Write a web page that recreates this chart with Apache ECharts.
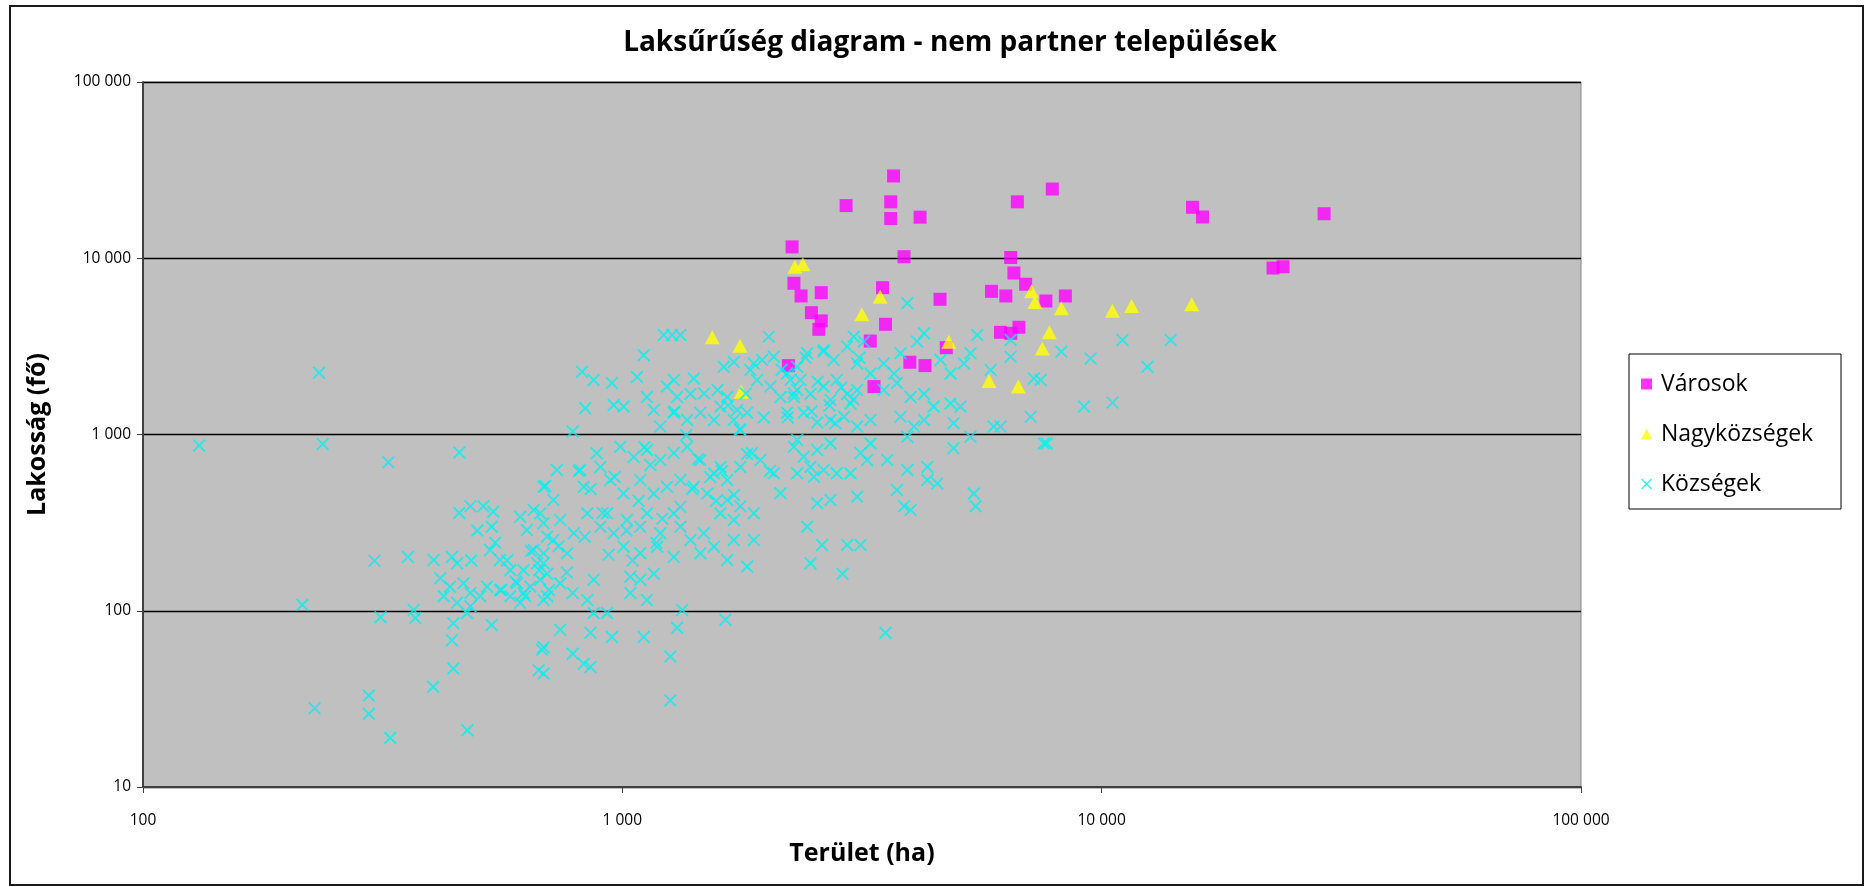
<!DOCTYPE html>
<html>
<head>
<meta charset="utf-8">
<script src="https://cdn.jsdelivr.net/npm/echarts@6/dist/echarts.min.js"></script>
<style>
html,body{margin:0;padding:0;background:#fff;}
#chart{width:1870px;height:886px;}
</style>
</head>
<body>
<div id="chart"></div>
<script>
const chartTitle = 'Laksűrűség diagram - nem partner települések';
const xAxisName = 'Terület (ha)';
const yAxisName = 'Lakosság (fő)';
const seriesNames = ['Városok', 'Nagyközségek', 'Községek'];

// [terület (ha), lakosság (fő)]
const varosok = [
  [3680,29300],[2930,19900],[3630,20900],[3630,16800],[4180,17100],[2260,11600],[3870,10200],
  [6670,20900],[7890,24700],[6460,10100],[6560,8250],[6940,7120],[5890,6490],[6310,6110],
  [7650,5720],[8400,6110],[2280,7210],[2360,6110],[2600,6380],[3490,6810],[4600,5850],
  [2480,4910],[2600,4410],[2570,3950],[3540,4220],[6150,3800],[6720,4060],[3290,3390],
  [4740,3110],[2220,2460],[3980,2570],[4280,2460],[3350,1870],[6460,3750],
  [15470,19460],[16230,17140],[29110,17890],[22780,8800],[23900,8950]
];

const nagykozsegek = [
  [2290,8950],[2380,9240],[3450,6050],[3160,4810],[1540,3560],[1760,3190],[1770,1750],
  [4800,3360],[7140,6490],[7260,5650],[8240,5200],[7780,3800],[7520,3080],[5820,2010],
  [6700,1870],[10530,5040],[11550,5360],[15410,5480]
];

const kozsegek = [
  [233,2240],[131,866],[237,883],[325,695],[457,790],[691,510],
  [482,392],[513,392],[538,365],[534,300],
  [612,341],[653,373],[685,314],[632,287],[697,264],[653,221],[685,186],[622,170],
  [304,192],[357,202],[404,194],[441,202],[452,186],
  [417,153],[437,137],[466,143],[482,126],[505,121],[482,106],[522,137],[424,121],[452,111],
  [530,221],[556,194],[584,170],[603,143],[622,126],[584,121],[556,131],[643,137],[674,150],[697,121],[612,111],[664,186],
  [215,108],[313,92],[367,101],[370,91],[444,85],[474,97],[534,83],[441,68],[444,47],[403,37],[680,60],[669,46],
  [228,28],[296,33],[296,26],[328,19],[475,21],
  [1220,3670],[1270,3670],[1322,3670],[1108,2820],[2020,3590],[824,2270],[871,2040],[951,1960],[1073,2120],
  [1280,2040],[1409,2080],[1628,2420],[1708,2580],[1880,2530],[1957,2646],[2070,2760],
  [837,1410],[959,1470],[1006,1440],[1125,1630],[1163,1377],[1239,1870],[1301,1630],[1280,1330],[1387,1700],
  [1365,1208],[1455,1330],[1580,1788],[1602,1440],[1655,1630],[1736,1377],[1821,1330],[1708,1208],[1553,1208],
  [1910,2040],[2037,1870],[2138,1630],[2243,2040],[2207,1330],[2316,1788],[788,1040],[1763,1060],[1200,1110],
  [730,629],[685,505],[718,425],[817,629],[831,505],[900,655],[944,552],[1006,462],[990,852],[1056,746],
  [1125,817],[1200,717],[1280,785],[1365,852],[1455,717],[1553,602],[1602,655],[1655,552],[1763,655],[1821,776],
  [1941,717],[2070,602],[2138,464],[2280,852],
  [1090,552],[1163,462],[1239,505],[1322,552],[1409,505],[1503,462],[1655,425],[1763,392],[1880,357],[1708,327],[1602,357],
  [674,357],[742,327],[792,275],[718,252],[767,212],[685,212],[845,357],[900,300],[959,275],[929,357],[1022,327],
  [1090,300],[1125,357],[1200,275],[1280,357],[1322,300],[1387,252],
  [1006,231],[1090,212],[1182,231],[1280,202],[1455,212],[1553,231],[1655,194],[1821,178],[1478,275],[1708,252],[1880,252],
  [871,150],[1039,156],[1090,150],[1163,162],[697,162],[742,143],[788,126],[845,115],[685,115],[1039,126],[1125,115],
  [871,97],[929,97],[1333,101],[1641,89],[742,78],[858,75],[951,71],[1108,71],[1301,80],[685,62],[788,57],[831,50],
  [858,48],[1259,55],[685,44],[1259,31],
  [3930,5550],[3040,3590],[3190,3370],[2945,3160],[4260,3750],[4120,3370],[5500,3670],[6456,3437],
  [2430,2890],[2630,3016],[2760,2646],[2316,2420],[3090,2530],[3294,2220],[3510,2530],[3690,2220],[3805,2890],
  [4612,2646],[4839,2220],[5160,2530],[5326,2890],[6456,2760],[5864,2323],[7220,2080],
  [2630,1870],[2800,2040],[2945,1700],[3090,1788],[2992,1500],[2718,1569],[2469,1700],[2280,1630],[2353,2040],
  [3510,1788],[3740,1960],[3993,1630],[4260,1700],[4839,1500],[5076,1440],[4460,1440],
  [2390,1330],[2550,1170],[2718,1208],[2900,1260],[3090,1110],[3294,1208],[3805,1260],[4060,1110],[4260,1208],
  [4910,1160],[5950,1110],[6153,1110],[7108,1260],[7580,890],
  [2316,930],[2390,748],[2550,817],[2718,890],[2316,602],[2469,655],[2510,575],[2630,629],[2800,602],[2992,602],
  [3140,785],[3240,717],[3294,890],[3570,717],[3930,970],[3930,629],[4330,655],[4330,552],[4540,527],[4910,835],[5326,970],
  [2550,407],[2718,425],[3090,444],[3740,484],[3993,373],[3870,392],[5410,462],[5460,392],
  [2430,300],[2610,236],[2945,236],[3140,236],[2469,186],[2880,162],[3540,75],
  [8240,2950],[9484,2700],[11050,3437],[12460,2420],[13930,3437],[9185,1440],[10530,1520],[7680,890],[7458,2040],
  [1850,2323],[2207,2220],
  [543,243],[575,193],[599,146],[645,218],[671,170],[703,131],[736,232],[766,165],[627,121],[559,131],
  [811,620],[859,491],[910,359],[964,574],[1021,285],[1081,420],[1144,671],[1212,333],[835,263],[936,208],
  [1050,193],[1178,243],[884,783],[1112,847],
  [1284,1352],[1359,990],[1440,725],[1525,574],[1614,620],[1661,1461],[1759,1070],[1863,783],[1973,1250],
  [1569,420],[1399,491],[1710,454],[1481,1708],[1810,1708],[2031,620],[1321,389],
  [2150,2333],[2278,1708],[2412,2725],[2554,1995],[2705,1461],[2864,1846],[3034,1580],[3122,2725],[2628,2945],
  [2783,1157],[2213,1250],[2482,1352],
  [457,359],[498,285],[484,193]
];

const CROSS = 'path://M0,1L1,0L5,4L9,0L10,1L6,5L10,9L9,10L5,6L1,10L0,9L4,5Z';

function fmt(v) {
  return String(Math.round(v)).replace(/\B(?=(\d{3})+(?!\d))/g, ' ');
}

const chart = echarts.init(document.getElementById('chart'), null, {renderer: 'canvas'});
const axisLabelStyle = {fontFamily: '"Open Sans"', fontSize: 15.5, color: '#000'};
const axisNameStyle = {fontFamily: '"Open Sans"', fontWeight: 'bold', fontSize: 25, color: '#000'};

chart.setOption({
  animation: false,
  backgroundColor: '#fff',
  graphic: [
    {type: 'rect', shape: {x: 10, y: 6, width: 1853, height: 879},
     style: {fill: null, stroke: '#1a1a1a', lineWidth: 2}, silent: true, z: -1},
    {type: 'rect', shape: {x: 1629, y: 354, width: 212, height: 155},
     style: {fill: '#fff', stroke: '#000', lineWidth: 1}, silent: true, z: 0},
    {type: 'text', x: 950, y: 43, silent: true,
     style: {text: chartTitle, font: 'bold 28px "Open Sans"', fill: '#000',
             align: 'center', verticalAlign: 'middle', textAlign: 'center', textVerticalAlign: 'middle'}}
  ],
  grid: {left: 143, right: 289, top: 82, bottom: 99, show: true,
         backgroundColor: '#C0C0C0', borderColor: '#868686', borderWidth: 1},
  legend: {
    orient: 'vertical', left: 1641, top: 372, padding: 0,
    itemWidth: 11, itemHeight: 11, itemGap: 26, z: 5,
    textStyle: {fontFamily: '"Open Sans"', fontSize: 23, color: '#000', lineHeight: 24, padding: [0,0,0,4]},
    data: [
      {name: seriesNames[0], icon: 'rect'},
      {name: seriesNames[1], icon: 'triangle'},
      {name: seriesNames[2], icon: CROSS}
    ]
  },
  xAxis: {
    type: 'log', logBase: 10, min: 100, max: 100000,
    name: xAxisName, nameLocation: 'middle', nameGap: 54, nameTextStyle: axisNameStyle,
    axisLine: {show: true, lineStyle: {color: '#404040', width: 2}},
    axisTick: {show: true, length: 6, lineStyle: {color: '#404040', width: 1}},
    axisLabel: Object.assign({margin: 26, formatter: fmt}, axisLabelStyle),
    splitLine: {show: false}, minorTick: {show: false}
  },
  yAxis: {
    type: 'log', logBase: 10, min: 10, max: 100000,
    name: yAxisName, nameLocation: 'middle', nameGap: 93, nameTextStyle: axisNameStyle,
    axisLine: {show: true, lineStyle: {color: '#404040', width: 2}},
    axisTick: {show: true, length: 6, lineStyle: {color: '#404040', width: 1}},
    axisLabel: Object.assign({margin: 12, formatter: fmt}, axisLabelStyle),
    splitLine: {show: true, lineStyle: {color: '#000', width: 1.4}}
  },
  series: [
    {name: seriesNames[0], type: 'scatter', symbol: 'rect', symbolSize: 13,
     itemStyle: {color: '#FF00FF'}, data: varosok, emphasis: {disabled: true}},
    {name: seriesNames[1], type: 'scatter', symbol: 'triangle', symbolSize: [15, 14],
     itemStyle: {color: '#FFFF00'}, data: nagykozsegek, emphasis: {disabled: true}},
    {name: seriesNames[2], type: 'scatter', symbol: CROSS, symbolSize: 13,
     itemStyle: {color: '#00F0F0', opacity: 0.8}, data: kozsegek, emphasis: {disabled: true}}
  ]
});
</script>
</body>
</html>
